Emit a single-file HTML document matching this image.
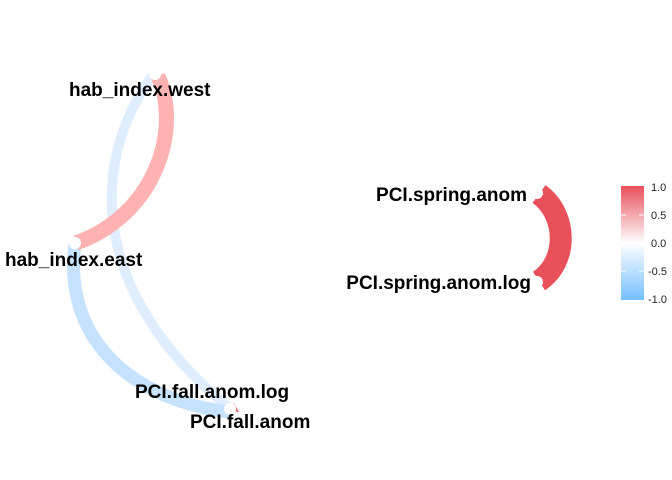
<!DOCTYPE html>
<html><head><style>body{margin:0;background:#fff}</style></head><body>
<svg width="672" height="480" xmlns="http://www.w3.org/2000/svg" style="display:block">
<defs><linearGradient id="g" x1="0" y1="0" x2="0" y2="1">
<stop offset="0" stop-color="#e8505a"/><stop offset="0.5" stop-color="#ffffff"/><stop offset="1" stop-color="#74bfff"/></linearGradient></defs>
<g fill="none" stroke-linecap="butt" opacity="0.9">
<path d="M152 76 C85 170 95 300 232 410" stroke="#dcecff" stroke-width="10"/>
<path d="M75 244 C62 345 140 402 230 412" stroke="#bfdfff" stroke-width="13"/>
<path d="M158 76 C182 130 155 215 76 243" stroke="#ffaaaa" stroke-width="15"/>
<path d="M233 404 L238 412" stroke="#e8505a" stroke-width="2"/>
</g>
<path d="M539 194 C568 215 568 262 539 281" fill="none" stroke="#e8505a" stroke-width="22"/>
<g fill="#fff"><circle cx="155" cy="74" r="6"/><circle cx="75" cy="243" r="6"/><circle cx="230" cy="409" r="6"/><circle cx="537" cy="193" r="6"/><circle cx="537" cy="282" r="6"/></g>
<g font-family="Liberation Sans, sans-serif" font-weight="bold" font-size="19" fill="#000">
<text x="69" y="96">hab_index.west</text>
<text x="5" y="266">hab_index.east</text>
<text x="135" y="398">PCI.fall.anom.log</text>
<text x="190" y="428">PCI.fall.anom</text>
<text x="527" y="201" text-anchor="end">PCI.spring.anom</text>
<text x="531" y="289" text-anchor="end">PCI.spring.anom.log</text>
</g>
<rect x="621" y="186" width="23" height="114" fill="url(#g)"/>
<g stroke="#fff" stroke-width="1"><line x1="621" y1="215" x2="626" y2="215"/><line x1="639" y1="215" x2="644" y2="215"/><line x1="621" y1="243" x2="626" y2="243"/><line x1="639" y1="243" x2="644" y2="243"/><line x1="621" y1="271" x2="626" y2="271"/><line x1="639" y1="271" x2="644" y2="271"/></g>
<g font-family="Liberation Sans, sans-serif" font-size="11" fill="#222">
<text x="651" y="191">1.0</text><text x="651" y="219">0.5</text><text x="651" y="247">0.0</text><text x="648" y="275">-0.5</text><text x="648" y="303">-1.0</text>
</g>
</svg>
</body></html>
